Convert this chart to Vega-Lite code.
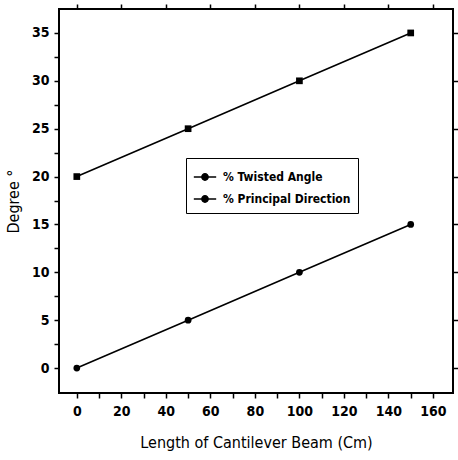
{
  "$schema": "https://vega.github.io/schema/vega-lite/v6.json",
  "width": 394,
  "height": 384,
  "autosize": "none",
  "padding": {"left": 59, "top": 9, "right": 5, "bottom": 67},
  "background": "white",
  "config": {
    "font": "DejaVu Sans Condensed, Liberation Sans, sans-serif",
    "view": {"stroke": "black", "strokeWidth": 2},
    "axis": {"labelFont": "DejaVu Sans Condensed, Liberation Sans, sans-serif", "titleFont": "DejaVu Sans Condensed, Liberation Sans, sans-serif", "labelColor": "black", "titleColor": "black", "domain": false, "grid": false, "tickColor": "black", "tickWidth": 1.5}
  },
  "data": {"values": [
    {"length": 0, "degree": 0, "series": "% Twisted Angle"},
    {"length": 50, "degree": 5, "series": "% Twisted Angle"},
    {"length": 100, "degree": 10, "series": "% Twisted Angle"},
    {"length": 150, "degree": 15, "series": "% Twisted Angle"},
    {"length": 0, "degree": 20, "series": "% Principal Direction"},
    {"length": 50, "degree": 25, "series": "% Principal Direction"},
    {"length": 100, "degree": 30, "series": "% Principal Direction"},
    {"length": 150, "degree": 35, "series": "% Principal Direction"}
  ]},
  "layer": [
    {
      "mark": {"type": "line", "strokeWidth": 1.6},
      "encoding": {
        "x": {"field": "length", "type": "quantitative", "scale": {"domain": [-8, 169], "nice": false, "zero": false},
          "axis": {"orient": "bottom", "values": [0,10,20,30,40,50,60,70,80,90,100,110,120,130,140,150,160], "labelExpr": "datum.value % 20 === 0 ? datum.label : ''", "labelFontSize": 14, "labelFontWeight": "bold", "labelPadding": 6, "tickSize": 5, "title": "Length of Cantilever Beam (Cm)", "titleFontSize": 16, "titleFontWeight": "normal", "titlePadding": 16}},
        "y": {"field": "degree", "type": "quantitative", "scale": {"domain": [-2.6, 37.5], "nice": false, "zero": false},
          "axis": {"orient": "left", "values": [0,2.5,5,7.5,10,12.5,15,17.5,20,22.5,25,27.5,30,32.5,35], "labelExpr": "datum.value % 5 === 0 ? datum.label : ''", "labelFontSize": 14, "labelFontWeight": "bold", "labelPadding": 5, "tickSize": 5, "title": "Degree °", "titleFontSize": 16, "titleFontWeight": "normal", "titlePadding": 10}},
        "color": {"field": "series", "type": "nominal", "sort": ["% Twisted Angle", "% Principal Direction"],
          "scale": {"range": ["black", "black"]},
          "legend": {"orient": "none", "legendX": 127, "legendY": 149, "title": null, "strokeColor": "black", "fillColor": "white", "padding": 7, "rowPadding": 3, "labelFontSize": 12, "labelFontWeight": "bold", "labelFont": "DejaVu Sans Condensed, Liberation Sans, sans-serif", "labelColor": "black", "symbolType": "M-1,0H1M-0.28,0a0.28,0.28 0 1,0 0.56,0a0.28,0.28 0 1,0 -0.56,0", "symbolSize": 500, "symbolStrokeWidth": 1.5, "symbolFillColor": "black", "symbolStrokeColor": "black", "labelOffset": 6}},
        "detail": {"field": "series"}
      }
    },
    {
      "mark": {"type": "point", "filled": true, "opacity": 1, "color": "black", "size": 45},
      "encoding": {
        "x": {"field": "length", "type": "quantitative", "axis": {"orient": "top", "labels": false, "title": null, "tickSize": 5}},
        "y": {"field": "degree", "type": "quantitative", "axis": {"orient": "right", "labels": false, "title": null, "tickSize": 5}},
        "shape": {"field": "series", "type": "nominal", "scale": {"domain": ["% Twisted Angle", "% Principal Direction"], "range": ["circle", "square"]}, "legend": null}
      }
    }
  ],
  "resolve": {"axis": {"x": "independent", "y": "independent"}}
}
